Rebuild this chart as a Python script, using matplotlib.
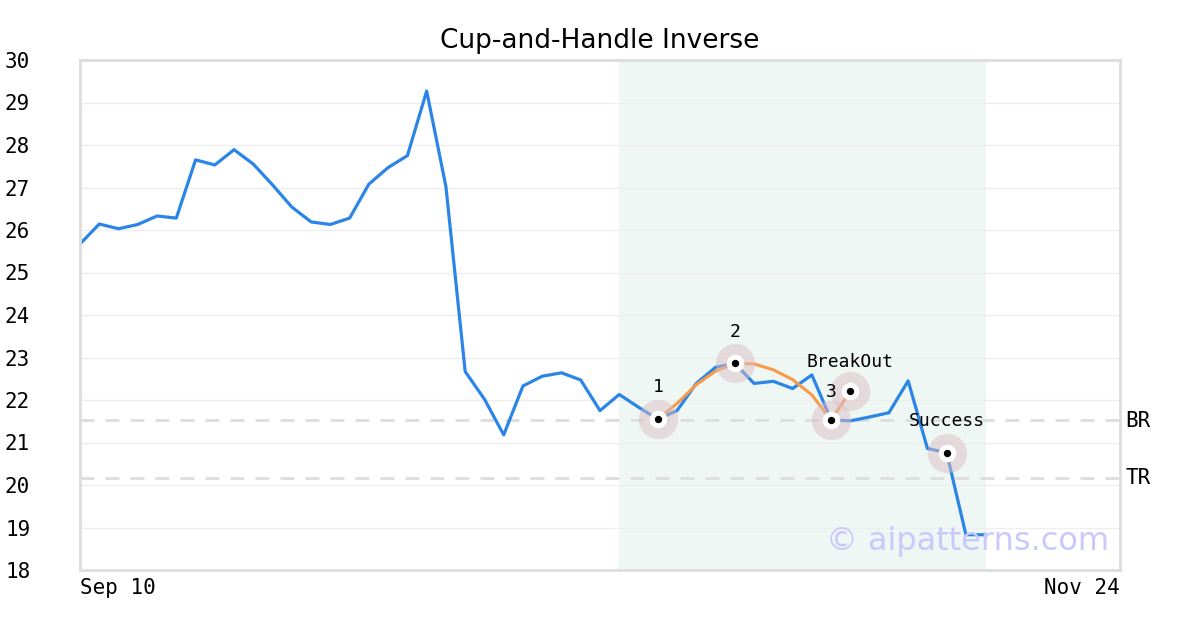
import matplotlib
matplotlib.use("Agg")
import matplotlib.pyplot as plt
import numpy as np

# price series (business-day index from Sep 10)
prices = [25.67, 26.14, 26.03, 26.13, 26.33, 26.28, 27.65, 27.53, 27.89, 27.55,
          27.06, 26.54, 26.19, 26.13, 26.28, 27.08, 27.47, 27.75, 29.27, 27.02,
          22.67, 22.02, 21.18, 22.33, 22.56, 22.64, 22.47, 21.75, 22.13, 21.83,
          21.55, 21.75, 22.39, 22.77, 22.86, 22.39, 22.44, 22.27, 22.59, 21.53,
          21.51, 21.60, 21.70, 22.45, 20.86, 20.76, 18.83, 18.83]

# fitted cup (index 30..39) and handle (39..40)
cup_x = [30, 31, 32, 33, 34, 35, 36, 37, 38, 39]
cup_y = [21.55, 21.92, 22.36, 22.68, 22.86, 22.85, 22.71, 22.48, 22.12, 21.53]
handle_x = [39, 40]
handle_y = [21.53, 22.21]

# key points
key_x = [30, 34, 39, 40, 45]
key_y = [21.55, 22.86, 21.53, 22.21, 20.76]
key_labels = ["1", "2", "3", "BreakOut", "Success"]

br_level = 21.53
tr_level = 20.16
zone = (28, 47)
x_ticks = [0, 54]
x_labels = ["Sep 10", "Nov 24"]

mono = "DejaVu Sans Mono"
grey = "#dddddd"

fig = plt.figure(figsize=(12, 6.3), dpi=100)
ax = fig.add_axes([80 / 1200, 60 / 630, 1040 / 1200, 510 / 630])

ax.axvspan(*zone, color="#eef7f3", zorder=0)
for v in range(19, 30):
    ax.axhline(v, color="#eeeeee", lw=1, zorder=1)
ax.axhline(br_level, color=grey, lw=2, ls=(0, (5, 4)), zorder=1)
ax.axhline(tr_level, color=grey, lw=2, ls=(0, (5, 4)), zorder=1)

ax.plot(range(len(prices)), prices, color="#2b85e6", lw=2.3, zorder=2)
ax.plot(cup_x, cup_y, color="#f89a4a", lw=2.2, zorder=3)
ax.plot(handle_x, handle_y, color="#f89a4a", lw=2.2, zorder=3)

ax.scatter(key_x, key_y, s=800, color="#dcbcc4", alpha=0.5, lw=0, zorder=4)
ax.scatter(key_x, key_y, s=160, color="white", lw=0, zorder=5)
ax.scatter(key_x, key_y, s=28, color="black", lw=0, zorder=6)

for x, y, t in zip(key_x, key_y, key_labels):
    if t == "3":
        ax.text(x, key_y[3] - 0.02, t, ha="center", va="center",
                fontsize=13, family=mono, zorder=7)
        continue
    dy = 0.68 if t == "BreakOut" else 0.75
    ax.text(x, y + dy, t, ha="center", va="center",
            fontsize=13, family=mono, zorder=7)

ax.text(1125 / 1200, 1 - 421 / 630, "BR", transform=fig.transFigure,
        va="center", ha="left", fontsize=15, family=mono)
ax.text(1125 / 1200, 1 - 478 / 630, "TR", transform=fig.transFigure,
        va="center", ha="left", fontsize=15, family=mono)

ax.text(0.99, 0.055, "© aipatterns.com", transform=ax.transAxes,
        ha="right", va="center", fontsize=23, color="#c9c9fb", zorder=8)

ax.set_xlim(0, 54)
ax.set_ylim(18, 30)
ax.set_yticks(range(18, 31))
ax.set_xticks(x_ticks)
ax.set_xticklabels(x_labels)
xl = ax.get_xticklabels()
xl[0].set_ha("left")
xl[1].set_ha("right")
for lab in ax.get_yticklabels():
    lab.set_ha("left")
ax.tick_params(axis="y", length=0, pad=54, labelsize=15)
ax.tick_params(axis="x", length=0, pad=6, labelsize=15)
for lab in ax.get_xticklabels() + ax.get_yticklabels():
    lab.set_family(mono)
for s in ax.spines.values():
    s.set_color(grey)
    s.set_linewidth(2)

ax.set_title("Cup-and-Handle Inverse", fontsize=19, pad=9)

fig.savefig("out.png", dpi=100)
